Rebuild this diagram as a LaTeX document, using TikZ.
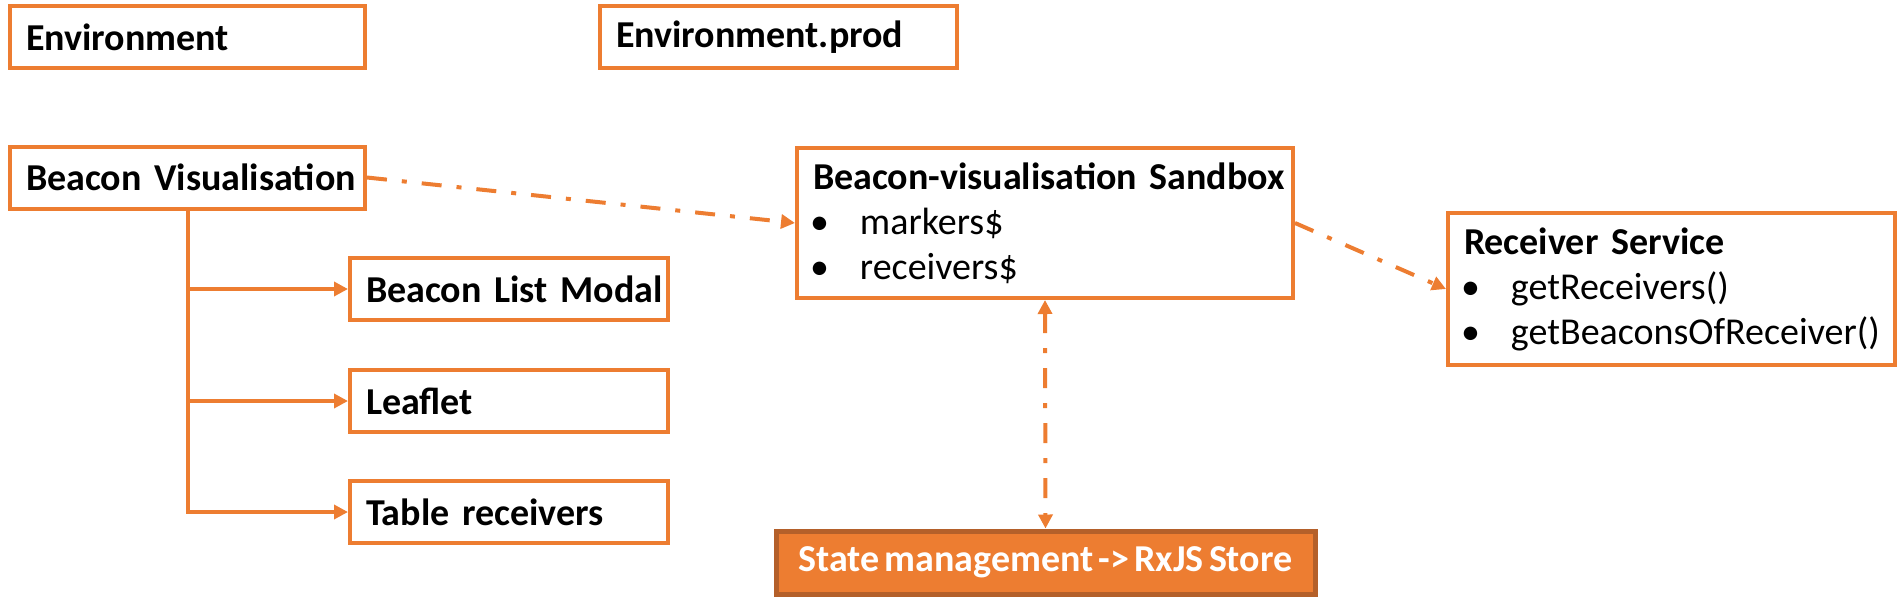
\documentclass[tikz,border=0pt]{standalone}
\usepackage{fontspec}
\setmainfont{Carlito}[WordSpace=0.6]
\usetikzlibrary{arrows.meta}
\definecolor{accent}{RGB}{237,125,49}
\definecolor{accentdark}{RGB}{180,96,42}
\newcommand{\heading}[1]{\mbox{\textbf{#1}}}
\newcommand{\bitem}[1]{\mbox{\makebox[23.5pt][l]{\hspace{-1.5pt}\textbullet}#1}}

\begin{document}
\begin{tikzpicture}
		[x=0.5pt,y=-0.5pt,
		font=\fontsize{19}{22.5}\selectfont,
		>={Triangle[length=7pt,width=7pt]},
		block/.style={draw=accent,line width=2pt,inner xsep=8pt,inner ysep=3pt,
align=left,text width=#1,minimum height=31pt},
		listblock/.style={block=#1,minimum height=75pt},
		storeblock/.style={draw=accentdark,fill=accent,text=white,line width=2.5pt,
minimum width=269.5pt,minimum height=31.5pt,inner sep=0pt},
		edgestyle/.style={accent,line width=2pt},
		dashstyle/.style={edgestyle,dash pattern=on 10pt off 7.5pt on 2.5pt off 7.5pt}]
		\useasboundingbox (0,0) rectangle (1902,606);
		% top row
		\node at (187.5,37) (env) [block=161.5pt] {\heading{Environment}};
		\node at (778.5,37) (envprod) [block=162.5pt] {\heading{Environment.prod}};
		% component tree
		\node at (187.5,177.5) (bv) [block=161.5pt] {\heading{Beacon Visualisation}};
		\node at (509,289) (blm) [block=143pt] {\heading{Beacon List Modal}};
		\node at (509,401) (leaflet) [block=143pt] {\heading{Leaflet}};
		\node at (509,512) (tr) [block=143pt] {\heading{Table receivers}};
		% sandbox, service and store
		\node at (1045,223) (sandbox) [listblock=232pt]
			{\heading{Beacon-visualisation Sandbox}\\\bitem{markers\$}\\\bitem{receivers\$}};
		\node at (1671.5,289) (rs) [listblock=207.5pt,minimum height=76pt]
			{\heading{Receiver Service}\\\bitem{getReceivers()}\\\bitem{getBeaconsOfReceiver()}};
		\node at (1045.5,562.5) (store) [storeblock] {\heading{State management -> RxJS Store}};
		% connectors
		\draw[edgestyle,->] (bv.south) |- (tr.west);
		\draw[edgestyle,->] (bv.south |- blm.west) -- (blm.west);
		\draw[edgestyle,->] (bv.south |- leaflet.west) -- (leaflet.west);
		\draw[dashstyle,->] (bv.east) -- (sandbox.west);
		\draw[dashstyle,->] (sandbox.east) -- (rs.west);
		\draw[dashstyle,<->] (sandbox.south) -- (store.north);
	\end{tikzpicture}
\end{document}
